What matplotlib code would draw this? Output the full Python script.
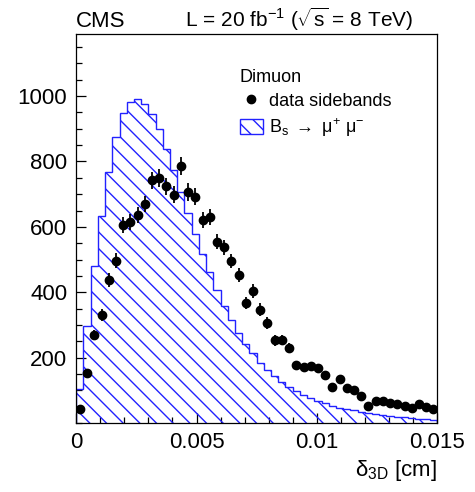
import matplotlib
matplotlib.use("Agg")
import matplotlib.pyplot as plt
import numpy as np
from matplotlib.lines import Line2D
from matplotlib.patches import Patch
from matplotlib.ticker import MultipleLocator, FixedLocator

plt.rcParams["font.family"] = ["Liberation Sans", "DejaVu Sans"]
plt.rcParams["mathtext.fontset"] = "custom"
plt.rcParams["mathtext.rm"] = "Liberation Sans"
plt.rcParams["mathtext.it"] = "Liberation Sans:italic"
plt.rcParams["mathtext.bf"] = "Liberation Sans:bold"
plt.rcParams["hatch.linewidth"] = 1.0

# 3D decay length binning: 50 bins of 3 um
bin_edges = np.linspace(0.0, 0.015, 51)

# signal MC (Bs -> mu mu), normalised to the sidebands
signal_mc = [103, 298, 481, 634, 768, 876, 947, 981, 992, 977,
             944, 900, 839, 775, 706, 641, 578, 517, 461, 408,
             359, 314, 275, 241, 214, 185, 162, 144, 124, 109,
             97, 85, 77, 68, 60, 52, 47, 43, 39, 35,
             30, 27, 25, 21, 19, 17, 15, 13, 12, 10]

# background from the dimuon mass sidebands
data_sidebands = [42, 152, 269, 331, 437, 497, 606, 614, 637, 670,
                  742, 749, 724, 699, 786, 707, 692, 620, 631, 555,
                  537, 496, 453, 367, 404, 347, 306, 253, 254, 230,
                  176, 172, 173, 168, 146, 109, 136, 107, 100, 82,
                  51, 67, 68, 60, 57, 52, 47, 57, 48, 42]

y_ticks = [200, 400, 600, 800, 1000]
x_ticks = [0, 0.005, 0.01, 0.015]
x_ticklabels = ["0", "0.005", "0.01", "0.015"]

blue = "#2222ff"

fig = plt.figure(figsize=(4.75, 4.92), dpi=100)
ax = fig.add_axes([0.1606, 0.1402, 0.7594, 0.7907])

ax.stairs(signal_mc, bin_edges, baseline=0, fill=True, facecolor="none",
          edgecolor=blue, hatch="\\\\", linewidth=1.0, zorder=2)

centers = 0.5 * (bin_edges[:-1] + bin_edges[1:])
data = np.array(data_sidebands, dtype=float)
ax.errorbar(centers, data, yerr=np.sqrt(data), fmt="o", color="black",
            markersize=6, elinewidth=1.3, capsize=0, zorder=3)

ax.set_xlim(0, 0.015)
ax.set_ylim(0, 1190)

ax.xaxis.set_major_locator(FixedLocator(x_ticks))
ax.set_xticklabels(x_ticklabels)
ax.xaxis.set_minor_locator(MultipleLocator(0.001))
ax.yaxis.set_major_locator(FixedLocator(y_ticks))
ax.yaxis.set_minor_locator(MultipleLocator(50))

ax.tick_params(which="both", direction="in", top=False, right=False,
               labelsize=16, pad=6.5, width=0.9)
ax.tick_params(which="major", length=7.5)
ax.tick_params(which="minor", length=4)
for sp in ax.spines.values():
    sp.set_linewidth(0.9)

ax.set_xlabel("δ$_{\\mathrm{3D}}$ [cm]", fontsize=16, loc="right")
ax.xaxis.set_label_coords(1.0, -0.09)

ax.text(0.0, 1.018, "CMS", transform=ax.transAxes, fontsize=16,
        ha="left", va="baseline")
ax.text(0.934, 1.018, r"L = 20 fb$^{-1}$ ($\sqrt{\mathrm{s}}$ = 8 TeV)",
        transform=ax.transAxes, fontsize=15, ha="right", va="baseline")

handles = [
    Line2D([], [], marker="o", color="black", linestyle="none", markersize=6),
    Patch(facecolor="none", edgecolor=blue, hatch="\\\\", linewidth=1.0),
]
labels = ["data sidebands",
          "B$_{\\mathrm{s}}\\ \\rightarrow\\ \\mathrm{μ}^{+}\\ \\mathrm{μ}^{-}$"]
leg = ax.legend(handles, labels, title="Dimuon", loc="upper left",
                bbox_to_anchor=(0.408, 0.953), frameon=False, fontsize=13,
                title_fontsize=13, alignment="left", handlelength=1.3,
                handleheight=0.95, handletextpad=0.3, labelspacing=0.35)

fig.savefig("out.png", dpi=100)
